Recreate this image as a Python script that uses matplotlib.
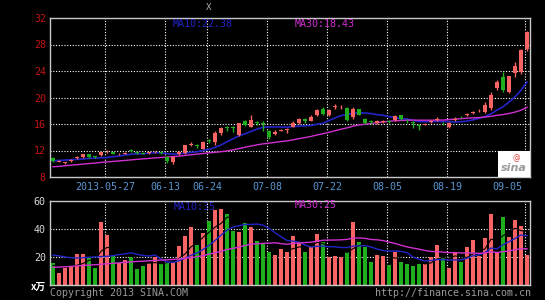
import matplotlib
matplotlib.use('Agg')
import matplotlib.pyplot as plt
import numpy as np
import pandas as pd
from matplotlib.patches import Rectangle

# ---------------- data ----------------
dates = ['05-14','05-15','05-16','05-17','05-20','05-21','05-22','05-23','05-24','05-27',
         '05-28','05-29','05-30','05-31','06-03','06-04','06-05','06-06','06-07','06-13',
         '06-14','06-17','06-18','06-19','06-20','06-21','06-24','06-25','06-26','06-27',
         '06-28','07-01','07-02','07-03','07-04','07-05','07-08','07-09','07-10','07-11',
         '07-12','07-15','07-16','07-17','07-18','07-19','07-22','07-23','07-24','07-25',
         '07-26','07-29','07-30','07-31','08-01','08-02','08-05','08-06','08-07','08-08',
         '08-09','08-12','08-13','08-14','08-15','08-16','08-19','08-20','08-21','08-22',
         '08-23','08-26','08-27','08-28','08-29','08-30','09-02','09-03','09-04','09-05']

opens  = [10.9,10.3,10.1,10.4,10.8,11.0,11.4,11.1,11.3,11.7,
          11.7,11.4,11.5,12.0,11.8,11.6,11.6,11.7,11.8,11.0,
          10.3,11.5,11.6,12.9,12.8,12.3,13.6,13.3,14.6,15.5,
          15.5,14.4,16.5,15.6,16.3,16.2,15.0,14.5,15.0,15.1,
          15.6,16.1,16.8,16.5,17.35,18.2,17.35,18.6,18.5,18.4,
          17.1,18.2,16.8,16.4,16.1,16.3,16.4,16.6,17.3,16.5,
          16.3,15.8,15.9,16.3,16.6,16.2,15.6,16.6,17.05,17.3,
          17.6,17.9,17.8,18.4,21.4,23.05,20.9,23.75,23.9,27.3]
highs  = [11.0,10.5,10.3,10.7,11.1,11.5,11.5,11.2,11.8,12.1,
          11.8,11.6,11.7,12.2,11.9,11.8,11.8,11.9,11.9,11.1,
          11.1,11.9,12.9,13.3,13.0,13.5,13.8,14.9,15.6,15.7,
          15.7,16.2,16.6,17.3,16.5,16.4,15.1,15.1,15.3,15.4,
          16.4,16.9,16.9,17.3,18.3,18.6,18.2,19.0,18.8,18.5,
          18.5,18.3,16.9,16.6,16.6,16.6,16.6,17.3,17.4,16.7,
          16.4,16.0,16.1,16.6,17.0,16.3,16.3,17.0,17.2,17.7,
          17.9,18.2,19.3,20.9,22.6,23.8,23.3,25.4,27.3,30.0]
lows   = [10.3,10.2,10.0,10.3,10.7,10.9,10.9,10.9,11.2,11.6,
          11.4,11.3,11.4,11.8,11.5,11.4,11.5,11.6,11.5,10.1,
          10.0,11.3,11.5,12.7,12.4,12.2,13.2,12.8,14.3,15.0,
          14.8,14.2,15.7,15.5,15.8,14.9,13.8,14.3,14.9,14.6,
          15.5,16.0,16.2,16.4,17.2,17.3,17.2,18.3,18.2,16.5,
          16.8,17.3,16.0,16.0,16.0,16.2,16.1,16.5,16.6,16.2,
          15.4,15.1,15.8,16.2,16.5,15.9,15.4,16.5,16.9,17.2,
          17.5,17.8,17.7,18.1,21.2,20.9,20.7,23.1,23.5,27.0]
closes = [10.4,10.4,10.2,10.6,11.0,11.4,11.0,11.0,11.7,11.8,
          11.5,11.5,11.6,11.95,11.6,11.5,11.7,11.8,11.6,10.4,
          11.0,11.7,12.8,13.0,12.65,13.3,13.45,14.7,15.35,15.35,
          15.4,16.1,15.9,16.6,16.1,16.05,14.0,14.8,15.1,15.2,
          16.2,16.8,16.4,17.1,18.1,17.45,18.1,18.7,18.6,16.6,
          18.3,17.4,16.2,16.3,16.5,16.4,16.3,17.2,16.7,16.4,
          16.1,15.7,16.0,16.4,16.7,16.1,16.2,16.8,17.0,17.5,
          17.8,18.0,18.8,20.4,22.4,21.1,23.2,24.7,27.2,29.9]
volumes = [15.5,8.3,11.9,12.6,22.1,22.1,19.7,11.9,45.0,35.5,
           20.5,15.7,17.6,19.7,11.7,13.6,15.5,19.7,15.5,15.5,
           16.7,27.9,35.0,41.2,28.6,37.4,45.9,53.6,54.3,50.7,
           38.8,38.1,44.0,41.2,31.4,29.8,23.8,21.4,25.7,23.8,
           35.0,29.8,23.8,27.1,36.4,31.0,19.8,20.7,20.2,23.8,
           45.2,31.0,26.9,16.7,21.4,20.7,14.3,23.3,16.2,15.2,
           13.8,15.2,14.8,20.0,28.8,19.3,12.1,23.8,16.2,27.1,
           31.9,20.7,33.3,50.7,22.6,48.8,34.0,46.7,41.9,21.4]

# moving-average values before the full window is available
ma10_early = [10.45,10.5,10.55,10.6,10.65,10.72,10.8,10.85,10.9]
ma30_early = [9.55,9.6,9.7,9.78,9.86,9.95,10.03,10.1,10.2,10.28,
              10.35,10.43,10.5,10.58,10.66,10.74,10.8,10.88,10.95,11.0,
              11.08,11.15,11.25,11.35,11.45,11.55,11.65,11.72,11.82]
vma5_early = [14.0,13.5,13.0,13.5]
vma10_early = [21.4,20.8,20.0,19.5,19.3,19.5,19.8,20.0,20.3]
vma30_early = [12.6,12.8,13.0,13.3,13.6,13.9,14.2,14.5,14.8,15.2,
               15.5,15.8,16.2,16.5,16.8,17.0,17.3,17.6,17.8,18.0,
               18.3,18.6,19.0,19.5,20.2,21.0,22.0,23.0,24.0]

tick_dates = ['05-27','06-13','06-24','07-08','07-22','08-05','08-19','09-05']
tick_labels = ['2013-05-27','06-13','06-24','07-08','07-22','08-05','08-19','09-05']
price_ticks = [8,12,16,20,24,28,32]
vol_ticks = [20,40,60]

# ---------------- helpers ----------------
def moving(vals, n, early):
    s = pd.Series(vals, dtype=float).rolling(n).mean()
    s.iloc[:n-1] = early
    return s.values

W, H = 545, 300
RED = '#f86464'
GREEN = '#1eae1e'
BLUE = '#2424c8'
MAG = '#d030d0'
FONT = 'DejaVu Sans Mono'

fig = plt.figure(figsize=(W/100, H/100), dpi=100, facecolor='black')

def box(l, t, r, b):
    return [l/W, 1-b/H, (r-l)/W, (b-t)/H]

axp = fig.add_axes(box(50, 18, 530, 177), facecolor='black')
axv = fig.add_axes(box(50, 201, 530, 285), facecolor='black')

n = len(dates)
x = np.arange(n)
o = np.array(opens); c = np.array(closes); h = np.array(highs); lo = np.array(lows)
up = c >= o
cols = np.where(up, RED, GREEN)

grid_x = [dates.index(d) - 0.35 for d in tick_dates]

for ax, ylim, yticks in ((axp, (8, 32), [12,16,20,24,28]), (axv, (0, 60), [20,40])):
    ax.set_xlim(-0.5, n-0.5)
    ax.set_ylim(*ylim)
    for gx in grid_x:
        ax.axvline(gx, color='white', lw=0.8, ls=(0,(1,1.5)), zorder=1)
    for gy in yticks:
        ax.axhline(gy, color='white', lw=0.8, ls=(0,(1,1.5)), zorder=1)
    for sp in ax.spines.values():
        sp.set_color('#c8c8c8'); sp.set_linewidth(1)
    ax.tick_params(length=0)
    ax.set_xticks([])

# price candles
axp.vlines(x, lo, h, colors=cols, lw=1, zorder=3)
body_b = np.minimum(o, c)
body_h = np.maximum(np.abs(c - o), 0.08)
axp.bar(x, body_h, bottom=body_b, width=0.66, color=cols, zorder=4, linewidth=0)

ma10 = moving(closes, 10, ma10_early)
ma30 = moving(closes, 30, ma30_early)
axp.plot(x, ma10, color=BLUE, lw=1.2, zorder=2)
axp.plot(x, ma30, color=MAG, lw=1.0, zorder=2)

axp.set_yticks(price_ticks)
axp.set_yticklabels([str(t) for t in price_ticks], color='#c41414', fontsize=7.2, family=FONT)
axp.tick_params(axis='y', pad=3)

# sina logo box
axp.add_patch(Rectangle((0.934, 0.0), 0.066, 0.165, transform=axp.transAxes,
                        facecolor='white', edgecolor='none', zorder=6))
axp.text(0.967, 0.055, 'sina', transform=axp.transAxes, ha='center', va='center',
         fontsize=8, color='#9a9a9a', fontweight='bold', style='italic', zorder=7)
axp.text(0.972, 0.125, '@', transform=axp.transAxes, ha='center', va='center',
         fontsize=5.5, color='#e04040', zorder=7)

# volume
vcols = cols
axv.text(0.257, 0.93, 'MA10:35', transform=axv.transAxes, color=BLUE, fontsize=7.2,
         family=FONT, va='center', ha='left', zorder=0.5)
axv.bar(x, volumes, width=0.82, color=vcols, zorder=2, linewidth=0)
vma5 = moving(volumes, 5, vma5_early)
vma10 = moving(volumes, 10, vma10_early)
vma30 = moving(volumes, 30, vma30_early)
axv.plot(x, vma5, color='black', lw=0.8, zorder=3)
axv.plot(x, vma10, color=BLUE, lw=1.0, zorder=3)
axv.plot(x, vma30, color=MAG, lw=1.0, zorder=3)
axv.set_yticks(vol_ticks)
axv.set_yticklabels([str(t) for t in vol_ticks], color='#d8d8d8', fontsize=7.2, family=FONT)
axv.tick_params(axis='y', pad=3)

# date labels between panels
for d, lab in zip(tick_dates, tick_labels):
    gx = dates.index(d) - 0.35
    ha = 'center'
    if d == tick_dates[-1]:
        ha = 'right'
        gx -= 0.5
    axp.text(gx, -0.06, lab, transform=axp.get_xaxis_transform(), ha=ha, va='center',
             color='#5a96d2', fontsize=7.2, family=FONT)

def ftext(px, py, s, **kw):
    fig.text(px/W, 1-py/H, s, **kw)

ftext(173, 24, 'MA10:22.38', color=BLUE, fontsize=7.2, family=FONT, va='center')
ftext(295, 24, 'MA30:18.43', color=MAG, fontsize=7.2, family=FONT, va='center')
ftext(295, 205, 'MA30:25', color=MAG, fontsize=7.2, family=FONT, va='center')
ftext(209, 8, 'X', color='#b0b0b0', fontsize=6.5, family=FONT, va='center', ha='center')
ftext(46, 287, 'x万', color='white', fontsize=7, fontweight='bold',
      family=['Noto Sans CJK SC', 'DejaVu Sans'], va='center', ha='right')
ftext(50, 293, 'Copyright 2013 SINA.COM', color='#9a9a9a', fontsize=7.2, family=FONT, va='center')
ftext(531, 293, 'http://finance.sina.com.cn', color='#9a9a9a', fontsize=7.2, family=FONT,
      va='center', ha='right')

fig.savefig('out.png', dpi=100, facecolor='black')
